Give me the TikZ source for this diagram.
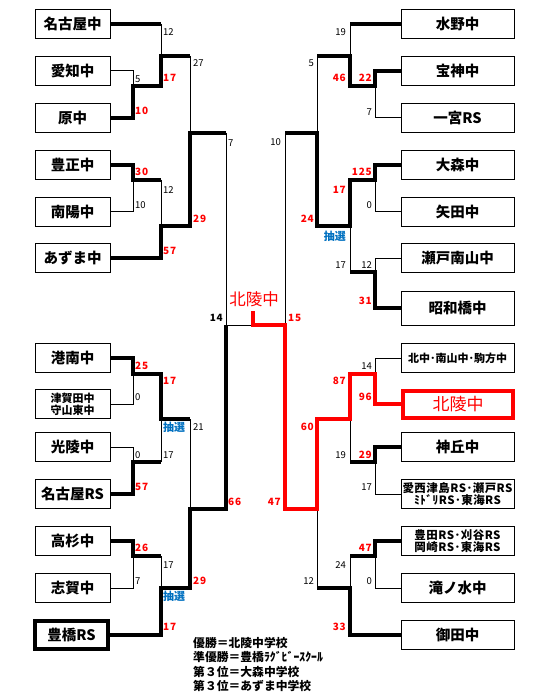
\documentclass[tikz,border=0pt]{standalone}
\usepackage{fontspec}
\setmainfont{Noto Sans CJK JP}
\definecolor{lotblue}{RGB}{0,112,192}
\newcommand{\boxfont}{\fontsize{14.5}{16}\selectfont\bfseries}
\newcommand{\smallbox}{\fontsize{11}{12}\selectfont\bfseries}
\newcommand{\widebox}{\fontsize{11.5}{12}\selectfont\bfseries\addfontfeatures{LetterSpace=4}}
\newcommand{\scfont}{\fontsize{9.5}{10}\selectfont}
\newcommand{\rscfont}{\fontsize{10}{10}\selectfont\bfseries\addfontfeatures{LetterSpace=8}}
\newcommand{\lotfont}{\fontsize{11}{11}\selectfont\bfseries}
\newcommand{\legfont}{\fontsize{11.8}{12}\selectfont\bfseries}
\begin{document}
\begin{tikzpicture}[x=1pt,y=-1pt,
  box/.style={draw, line width=1pt, minimum width=75pt, minimum height=29pt, inner sep=0pt, font=\boxfont},
  rbox/.style={box, minimum width=113pt},
  thinl/.style={line width=1pt},
  thickl/.style={line width=4pt},
  redl/.style={line width=4pt, red},
  sc/.style={font=\scfont, inner sep=0pt},
  rsc/.style={font=\rscfont, text=red, inner sep=0pt},
  lot/.style={font=\lotfont, text=lotblue, inner sep=0pt},
  leg/.style={font=\legfont, anchor=west, inner sep=0pt}]
\useasboundingbox (0,0) rectangle (555,700);
% ---------- left boxes ----------
\node[box] (L1) at (72.5,24) {名古屋中};
\node[box] (L2) at (72.5,71) {愛知中};
\node[box] (L3) at (72.5,118) {原中};
\node[box] (L4) at (72.5,165) {豊正中};
\node[box] (L5) at (72.5,212) {南陽中};
\node[box] (L6) at (72.5,258) {あずま中};
\node[box] (L7) at (72.5,358) {港南中};
\node[box, font=\smallbox, align=center] (L8) at (72.5,404) {津賀田中\\守山東中};
\node[box] (L9) at (72.5,447) {光陵中};
\node[box] (L10) at (72.5,494) {名古屋RS};
\node[box] (L11) at (72.5,541) {高杉中};
\node[box] (L12) at (72.5,588) {志賀中};
\node[box, line width=4pt, minimum width=73pt, minimum height=28pt] (L13) at (71.5,635) {豊橋RS};
% ---------- right boxes ----------
\node[rbox] (R1) at (457.5,24) {水野中};
\node[rbox] (R2) at (457.5,71) {宝神中};
\node[rbox] (R3) at (457.5,118) {一宮RS};
\node[rbox] (R4) at (457.5,165) {大森中};
\node[rbox] (R5) at (457.5,212) {矢田中};
\node[rbox] (R6) at (457.5,258) {瀬戸南山中};
\node[rbox, minimum height=34pt] (R7) at (457.5,308) {昭和橋中};
\node[rbox, font=\smallbox] (R8) at (457.5,358) {北中･南山中･駒方中};
\node[rbox, draw=red, line width=4pt, minimum width=110pt, minimum height=27pt, text=red, font=\fontsize{17}{18}\selectfont] (R9) at (458,404) {北陵中};
\node[rbox] (R10) at (457.5,447) {神丘中};
\node[rbox, font=\widebox, align=center] (R11) at (457.5,494) {愛西津島RS･瀬戸RS\\ﾐﾄﾞﾘRS･東海RS};
\node[rbox, font=\widebox, align=center] (R12) at (457.5,541) {豊田RS･刈谷RS\\岡崎RS･東海RS};
\node[rbox] (R13) at (457.5,588) {滝ノ水中};
\node[rbox] (R14) at (457.5,635) {御田中};
% ---------- left top bracket ----------
\draw[thickl] (L1.east) -- (161,24);
\draw[thinl] (161,24) -- (161,56);
\draw[thinl] (L2.east) -| (133,86);
\draw[thickl] (L3.east) -| (133,86) -- (161,86) -- (161,56) -- (190,56);
\draw[thinl] (190,56) -- (190,133);
\draw[thickl] (L4.east) -| (133,180) -- (161,180);
\draw[thinl] (L5.east) -| (133,180);
\draw[thinl] (161,180) -- (161,226);
\draw[thickl] (L6.east) -| (161,226) -- (190,226) -- (190,133) -- (226,133);
\draw[thinl] (226,133) -- (226,325) -- (253,325);
% ---------- left bottom bracket ----------
\draw[thickl] (L7.east) -| (133,374) -- (161,374) -- (161,419) -- (190,419);
\draw[thinl] (L8.east) -| (133,374);
\draw[thinl] (L9.east) -| (133,462);
\draw[thickl] (L10.east) -| (133,462) -- (161,462);
\draw[thinl] (161,462) -- (161,419);
\draw[thinl] (190,419) -- (190,509);
\draw[thickl] (L11.east) -| (133,556) -- (161,556);
\draw[thinl] (L12.east) -| (133,556);
\draw[thinl] (161,556) -- (161,588);
\draw[thickl] (L13.east) -| (161,588) -- (190,588) -- (190,509) -- (226,509) -- (226,325);
% ---------- right top bracket ----------
\draw[thickl] (R1.west) -- (350,24);
\draw[thinl] (350,24) -- (350,56);
\draw[thickl] (R2.west) -| (375,86) -- (350,86) -- (350,56) -- (317,56);
\draw[thinl] (R3.west) -| (375,86);
\draw[thinl] (317,56) -- (317,133);
\draw[thickl] (R4.west) -| (375,180) -- (350,180) -- (350,226) -- (317,226) -- (317,133) -- (285,133);
\draw[thinl] (R5.west) -| (375,180);
\draw[thinl] (R6.west) -| (375,272);
\draw[thickl] (R7.west) -| (375,272) -- (350,272);
\draw[thinl] (350,272) -- (350,226);
\draw[thinl] (285,133) -- (285,325);
% ---------- right bottom bracket ----------
\draw[thinl] (R8.west) -| (375,374);
\draw[thickl] (R10.west) -| (375,462) -- (350,462);
\draw[thinl] (R11.west) -| (375,462);
\draw[thinl] (350,462) -- (350,419);
\draw[thickl] (R12.west) -| (375,556) -- (350,556);
\draw[thinl] (R13.west) -| (375,556);
\draw[thinl] (350,556) -- (350,588);
\draw[thickl] (R14.west) -| (350,588) -- (317,588);
\draw[thinl] (317,588) -- (317,509);
% ---------- champion path ----------
\draw[redl] (R9.west) -- (375,404) -- (375,374) -- (350,374) -- (350,419) -- (317,419) -- (317,509) -- (285,509) -- (285,325) -- (253,325) -- (253,311);
\node[text=red, font=\fontsize{16.5}{17}\selectfont, inner sep=0pt] (champ) at (254,299) {北陵中};
% ---------- left scores ----------
\node[sc, anchor=west] (s1) at (163,32) {12};
\node[sc, anchor=west] (s2) at (135,79) {5};
\node[rsc, anchor=west] (s3) at (163,78) {17};
\node[rsc, anchor=west] (s4) at (135,111) {10};
\node[sc, anchor=west] (s5) at (193,63) {27};
\node[sc, anchor=west] (s6) at (228,143) {7};
\node[rsc, anchor=west] (s7) at (135,172) {30};
\node[sc, anchor=west] (s8) at (135,205) {10};
\node[sc, anchor=west] (s9) at (163,190) {12};
\node[rsc, anchor=west] (s10) at (193,219) {29};
\node[rsc, anchor=west] (s11) at (163,251) {57};
\node[rsc, anchor=east, text=black] (s12) at (223,318) {14};
\node[rsc, anchor=west] (s13) at (135,366) {25};
\node[sc, anchor=west] (s14) at (135,397) {0};
\node[rsc, anchor=west] (s15) at (163,381) {17};
\node[lot, anchor=west] (s16) at (163,427) {抽選};
\node[sc, anchor=west] (s17) at (193,427) {21};
\node[sc, anchor=west] (s18) at (135,455) {0};
\node[sc, anchor=west] (s19) at (163,455) {17};
\node[rsc, anchor=west] (s20) at (135,487) {57};
\node[rsc, anchor=west] (s21) at (228,502) {66};
\node[rsc, anchor=west] (s22) at (135,548) {26};
\node[sc, anchor=west] (s23) at (135,581) {7};
\node[sc, anchor=west] (s24) at (163,565) {17};
\node[rsc, anchor=west] (s25) at (193,581) {29};
\node[lot, anchor=west] (s26) at (163,596) {抽選};
\node[rsc, anchor=west] (s27) at (163,627) {17};
% ---------- right scores ----------
\node[sc, anchor=east] (t1) at (346,32) {19};
\node[sc, anchor=east] (t2) at (314,63) {5};
\node[rsc, anchor=east] (t3) at (346,78) {46};
\node[rsc, anchor=east] (t4) at (372,78) {22};
\node[sc, anchor=east] (t5) at (372,112) {7};
\node[sc, anchor=east] (t6) at (281,142) {10};
\node[rsc, anchor=east] (t7) at (372,172) {125};
\node[sc, anchor=east] (t8) at (372,205) {0};
\node[rsc, anchor=east] (t9) at (346,190) {17};
\node[rsc, anchor=east] (t10) at (314,219) {24};
\node[lot, anchor=east] (t11) at (346,236) {抽選};
\node[sc, anchor=east] (t12) at (346,265) {17};
\node[sc, anchor=east] (t13) at (372,265) {12};
\node[rsc, anchor=east] (t14) at (372,301) {31};
\node[rsc, anchor=west] (t15) at (288,318) {15};
\node[sc, anchor=east] (t16) at (372,366) {14};
\node[rsc, anchor=east] (t17) at (346,381) {87};
\node[rsc, anchor=east] (t18) at (372,397) {96};
\node[rsc, anchor=east] (t19) at (314,427) {60};
\node[sc, anchor=east] (t20) at (346,455) {19};
\node[rsc, anchor=east] (t21) at (372,455) {29};
\node[sc, anchor=east] (t22) at (372,487) {17};
\node[rsc, anchor=east] (t23) at (281,502) {47};
\node[rsc, anchor=east] (t24) at (372,548) {47};
\node[sc, anchor=east] (t25) at (346,565) {24};
\node[sc, anchor=east] (t26) at (372,581) {0};
\node[sc, anchor=east] (t27) at (314,581) {12};
\node[rsc, anchor=east] (t28) at (346,627) {33};
% ---------- legend ----------
\node[leg] (g1) at (193,643) {優勝＝北陵中学校};
\node[leg] (g2) at (193,657) {準優勝＝豊橋ﾗｸﾞﾋﾞｰｽｸｰﾙ};
\node[leg] (g3) at (193,672) {第３位＝大森中学校};
\node[leg] (g4) at (193,686) {第３位＝あずま中学校};
\end{tikzpicture}
\end{document}
